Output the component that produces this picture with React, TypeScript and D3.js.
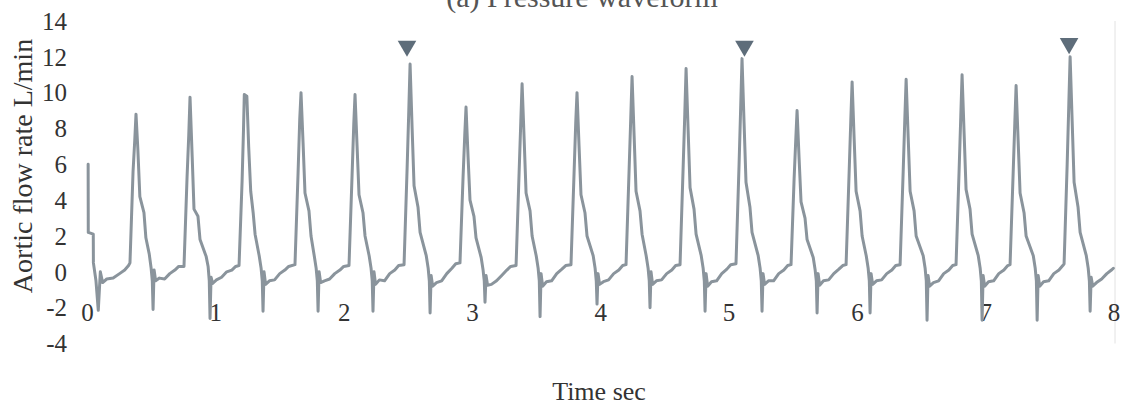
import React from "react";
import * as d3 from "d3";

const chartTitle = "(a) Pressure waveform";
const xAxisTitle = "Time sec";
const yAxisTitle = "Aortic flow rate L/min";

const xTicks = [0, 1, 2, 3, 4, 5, 6, 7, 8];
const yTicks = [14, 12, 10, 8, 6, 4, 2, 0, -2, -4];

const markerTimes = [2.49, 5.12, 7.65];
const markerValues = [12.6, 12.6, 12.75];

// [time (s), aortic flow (L/min)]
const flowSamples: [number, number][] = [
  [0.005, 6.0], [0.006, 2.2], [0.045, 2.1], [0.046, 0.5], [0.066, -0.5], [0.084, -2.15], [0.1, 0.0], [0.118, -0.6],
  [0.15, -0.4], [0.2, -0.35], [0.25, -0.1], [0.29, 0.1], [0.32, 0.35],
  // beat 1
  [0.331, 0.5], [0.355, 5.6], [0.368, 7.3], [0.378, 8.8], [0.392, 6.9], [0.408, 4.2], [0.44, 3.3], [0.455, 1.9],
  [0.481, 1.0], [0.496, 0.2], [0.505, -0.5], [0.511, -2.1], [0.519, 0.1], [0.531, -0.5], [0.561, -0.35], [0.601, -0.4],
  [0.641, -0.1], [0.681, 0.1], [0.711, 0.3],
  // beat 2
  [0.752, 0.3], [0.776, 5.3], [0.789, 7.6], [0.799, 9.75], [0.816, 6.4], [0.83, 3.5], [0.861, 3.1], [0.877, 1.8],
  [0.925, 0.85], [0.94, 0.3], [0.949, -0.5], [0.955, -2.6], [0.963, -0.3], [0.975, -0.65], [1.005, -0.45], [1.045, -0.3],
  [1.085, 0.0], [1.125, 0.1], [1.155, 0.3],
  // beat 3
  [1.181, 0.35], [1.205, 5.1], [1.216, 8.0], [1.222, 9.9], [1.242, 9.8], [1.256, 7.0], [1.272, 4.5], [1.291, 3.3],
  [1.306, 2.1], [1.338, 0.9], [1.353, 0.2], [1.362, -0.5], [1.368, -2.2], [1.376, 0.0], [1.388, -0.7], [1.418, -0.5],
  [1.458, -0.45], [1.498, -0.1], [1.538, 0.1], [1.568, 0.3],
  // beat 4
  [1.617, 0.4], [1.641, 5.5], [1.654, 8.5], [1.664, 10.0], [1.68, 7.2], [1.695, 4.4], [1.726, 3.4], [1.742, 2.0],
  [1.767, 0.9], [1.782, 0.2], [1.791, -0.5], [1.797, -2.2], [1.805, 0.0], [1.817, -0.6], [1.847, -0.5], [1.887, -0.4],
  [1.927, -0.1], [1.967, 0.1], [1.997, 0.3],
  // beat 5
  [2.038, 0.35], [2.062, 5.4], [2.075, 8.2], [2.085, 9.9], [2.101, 7.0], [2.116, 4.3], [2.147, 3.3], [2.163, 2.0],
  [2.195, 0.9], [2.21, 0.2], [2.219, -0.5], [2.225, -2.2], [2.233, 0.0], [2.245, -0.7], [2.275, -0.45], [2.315, -0.5],
  [2.355, -0.1], [2.395, 0.1], [2.425, 0.35],
  // beat 6
  [2.467, 0.4], [2.491, 5.8], [2.504, 9.0], [2.514, 11.6], [2.53, 8.0], [2.545, 4.8], [2.576, 3.6], [2.592, 2.2],
  [2.64, 0.9], [2.655, 0.2], [2.664, -0.5], [2.67, -2.3], [2.678, -0.2], [2.69, -0.8], [2.72, -0.6], [2.76, -0.5],
  [2.8, -0.1], [2.84, 0.2], [2.87, 0.45],
  // beat 7
  [2.903, 0.5], [2.927, 5.3], [2.94, 7.6], [2.95, 9.2], [2.966, 6.4], [2.981, 4.0], [3.012, 3.1], [3.028, 1.9],
  [3.068, 0.8], [3.083, 0.1], [3.092, -0.5], [3.098, -1.7], [3.106, -0.2], [3.118, -0.75], [3.148, -0.7], [3.188, -0.5],
  [3.228, -0.2], [3.268, 0.1], [3.298, 0.3],
  // beat 8
  [3.34, 0.35], [3.364, 5.6], [3.377, 8.4], [3.387, 10.5], [3.403, 7.4], [3.418, 4.4], [3.449, 3.4], [3.465, 2.0],
  [3.497, 0.9], [3.512, 0.2], [3.521, -0.5], [3.527, -2.5], [3.535, -0.1], [3.547, -0.8], [3.577, -0.55], [3.617, -0.5],
  [3.657, -0.1], [3.697, 0.15], [3.727, 0.35],
  // beat 9
  [3.768, 0.4], [3.792, 5.5], [3.805, 8.3], [3.815, 10.0], [3.831, 7.0], [3.846, 4.3], [3.877, 3.3], [3.893, 2.0],
  [3.941, 0.9], [3.956, 0.2], [3.965, -0.5], [3.971, -1.8], [3.979, -0.1], [3.991, -0.7], [4.021, -0.55], [4.061, -0.45],
  [4.101, -0.1], [4.141, 0.1], [4.171, 0.35],
  // beat 10
  [4.197, 0.4], [4.221, 5.7], [4.234, 8.6], [4.244, 10.9], [4.26, 7.6], [4.275, 4.5], [4.306, 3.4], [4.322, 2.1],
  [4.354, 0.9], [4.369, 0.2], [4.378, -0.5], [4.384, -2.0], [4.392, 0.0], [4.404, -0.7], [4.434, -0.5], [4.474, -0.45],
  [4.514, -0.1], [4.554, 0.1], [4.584, 0.35],
  // beat 11
  [4.618, 0.4], [4.642, 5.8], [4.655, 8.8], [4.665, 11.35], [4.681, 7.9], [4.696, 4.7], [4.727, 3.5], [4.743, 2.1],
  [4.783, 0.9], [4.798, 0.2], [4.807, -0.5], [4.813, -2.2], [4.821, -0.1], [4.833, -0.8], [4.863, -0.55], [4.903, -0.5],
  [4.943, -0.1], [4.983, 0.15], [5.013, 0.4],
  // beat 12
  [5.054, 0.45], [5.078, 6.0], [5.091, 9.3], [5.101, 11.9], [5.117, 8.3], [5.132, 5.0], [5.163, 3.6], [5.179, 2.2],
  [5.227, 0.9], [5.242, 0.2], [5.251, -0.5], [5.257, -2.2], [5.265, -0.1], [5.277, -0.7], [5.307, -0.5], [5.347, -0.5],
  [5.387, -0.1], [5.427, 0.1], [5.457, 0.35],
  // beat 13
  [5.483, 0.4], [5.507, 5.2], [5.52, 7.4], [5.53, 9.0], [5.546, 6.3], [5.561, 3.9], [5.592, 3.0], [5.608, 1.8],
  [5.656, 0.8], [5.671, 0.1], [5.68, -0.5], [5.686, -2.3], [5.694, -0.1], [5.706, -0.75], [5.736, -0.5], [5.776, -0.45],
  [5.816, -0.1], [5.856, 0.15], [5.886, 0.35],
  // beat 14
  [5.912, 0.4], [5.936, 5.6], [5.949, 8.5], [5.959, 10.6], [5.975, 7.4], [5.99, 4.5], [6.021, 3.4], [6.037, 2.0],
  [6.069, 0.9], [6.084, 0.2], [6.093, -0.5], [6.099, -2.3], [6.107, -0.1], [6.119, -0.7], [6.149, -0.5], [6.189, -0.45],
  [6.229, -0.1], [6.269, 0.1], [6.299, 0.35],
  // beat 15
  [6.333, 0.4], [6.357, 5.6], [6.37, 8.6], [6.38, 10.75], [6.396, 7.5], [6.411, 4.5], [6.442, 3.4], [6.458, 2.0],
  [6.513, 0.9], [6.528, 0.2], [6.537, -0.5], [6.543, -2.7], [6.551, -0.2], [6.563, -0.8], [6.593, -0.6], [6.633, -0.5],
  [6.673, -0.1], [6.713, 0.1], [6.743, 0.35],
  // beat 16
  [6.769, 0.4], [6.793, 5.7], [6.806, 8.7], [6.816, 11.0], [6.832, 7.7], [6.847, 4.6], [6.878, 3.5], [6.894, 2.1],
  [6.942, 0.9], [6.957, 0.2], [6.966, -0.5], [6.972, -2.7], [6.98, -0.2], [6.992, -0.8], [7.022, -0.55], [7.062, -0.5],
  [7.102, -0.1], [7.142, 0.1], [7.172, 0.35],
  // beat 17
  [7.19, 0.4], [7.214, 5.5], [7.227, 8.3], [7.237, 10.4], [7.253, 7.3], [7.268, 4.4], [7.299, 3.3], [7.315, 2.0],
  [7.371, 0.9], [7.386, 0.2], [7.395, -0.5], [7.401, -2.7], [7.409, -0.2], [7.421, -0.8], [7.451, -0.55], [7.491, -0.5],
  [7.531, -0.1], [7.571, 0.1], [7.601, 0.35],
  // beat 18
  [7.611, 0.45], [7.635, 6.0], [7.648, 9.4], [7.658, 12.0], [7.674, 8.4], [7.689, 5.0], [7.72, 3.6], [7.736, 2.2],
  [7.784, 0.9], [7.799, 0.2], [7.808, -0.5], [7.814, -2.2], [7.822, -0.3], [7.834, -0.8], [7.864, -0.6], [7.904, -0.4],
  [7.944, -0.1], [7.98, 0.1], [7.995, 0.2],
];

const W = 1122;
const H = 406;
const FONT = "'Liberation Serif', 'Times New Roman', serif";

export default function App() {
  const x = d3.scaleLinear().domain([0, 8]).range([87.5, 1114]);
  const y = d3.scaleLinear().domain([-4, 14]).range([343.5, 21]);

  const line = d3
    .line<[number, number]>()
    .x((d) => x(d[0]))
    .y((d) => y(d[1]));

  const tri = d3.symbol().type(d3.symbolTriangle).size(150)();

  return (
    <div style={{ position: "absolute", left: 0, top: 0 }}>
      <svg width={W} height={H} style={{ display: "block", background: "#fff" }}>
        <text x={582} y={7} textAnchor="middle" fontFamily={FONT} fontSize={30} fill="#555">
          {chartTitle}
        </text>

        <line x1={x(8) + 1} x2={x(8) + 1} y1={y(14)} y2={y(-4)} stroke="#e2e2e2" strokeWidth={1} />

        {yTicks.map((t) => (
          <text
            key={"y" + t}
            x={67}
            y={y(t)}
            dy="0.35em"
            textAnchor="end"
            fontFamily={FONT}
            fontSize={25}
            fill="#333"
          >
            {t}
          </text>
        ))}

        {xTicks.map((t) => (
          <text
            key={"x" + t}
            x={x(t)}
            y={312}
            dy="0.35em"
            textAnchor="middle"
            fontFamily={FONT}
            fontSize={25}
            fill="#333"
          >
            {t}
          </text>
        ))}

        <path
          d={line(flowSamples) || ""}
          fill="none"
          stroke="#8a949c"
          strokeWidth={3}
          strokeLinejoin="round"
          strokeLinecap="round"
        />

        {markerTimes.map((t, i) => (
          <path
            key={"m" + i}
            d={tri || ""}
            transform={`translate(${x(t)},${y(markerValues[i])}) rotate(180)`}
            fill="#5e6d7a"
          />
        ))}

        <text
          transform={`translate(32,166) rotate(-90)`}
          textAnchor="middle"
          fontFamily={FONT}
          fontSize={28}
          fill="#333"
        >
          {yAxisTitle}
        </text>

        <text x={599} y={400} textAnchor="middle" fontFamily={FONT} fontSize={26} fill="#333">
          {xAxisTitle}
        </text>
      </svg>
    </div>
  );
}
